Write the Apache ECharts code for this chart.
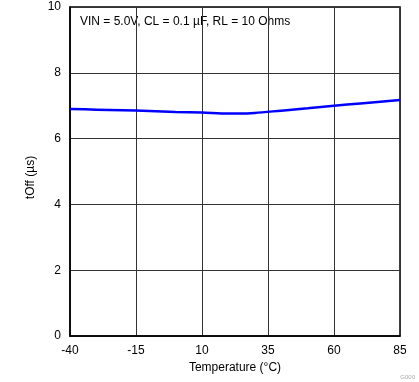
<!DOCTYPE html>
<html><head><meta charset="utf-8">
<script src="https://cdn.jsdelivr.net/npm/echarts@6/dist/echarts.min.js"></script>
<style>html,body{margin:0;padding:0;background:#fff}#c{width:419px;height:382px}</style>
</head><body><div id="c"></div>
<script>
var temps = [-40, -30, -20, -10, 0, 10, 20, 25, 30, 40, 50, 60, 70, 85];
var toff  = [6.90, 6.88, 6.86, 6.84, 6.81, 6.79, 6.76, 6.76, 6.78, 6.85, 6.92, 7.00, 7.07, 7.17];
var xTicks = [-40, -15, 10, 35, 60, 85];
var annotation = 'VIN = 5.0V, CL = 0.1 µF, RL = 10 Ohms';
var font = 'Liberation Sans, Arial, sans-serif';
var chart = echarts.init(document.getElementById('c'), null, {renderer:'canvas'});
chart.setOption({
  animation:false,
  grid:{left:70, right:19, top:7, bottom:46, show:true, borderColor:'#000', borderWidth:1.5},
  xAxis:{type:'value', min:-40, max:85, interval:25,
    name:'Temperature (°C)', nameLocation:'middle', nameGap:20,
    nameTextStyle:{fontFamily:font, fontSize:12, color:'#000'},
    axisLine:{show:true, onZero:false, lineStyle:{color:'#000', width:1.5}}, axisTick:{show:false},
    axisLabel:{fontFamily:font, fontSize:12, color:'#000', margin:9,
      formatter:function(v){return xTicks.indexOf(v)>=0 ? String(v) : '';}},
    splitLine:{show:true, lineStyle:{color:'#333', width:1}}},
  yAxis:{type:'value', min:0, max:10, interval:2,
    name:'tOff (µs)', nameLocation:'middle', nameGap:30, nameRotate:90,
    nameTextStyle:{fontFamily:font, fontSize:12, color:'#000', padding:[0,12,0,0]},
    axisLine:{show:true, onZero:false, lineStyle:{color:'#000', width:1.5}}, axisTick:{show:false},
    axisLabel:{fontFamily:font, fontSize:12, color:'#000', margin:9},
    splitLine:{show:true, lineStyle:{color:'#333', width:1}}},
  graphic:[
    {type:'text', left:80, top:16, style:{text:annotation, font:'12px '+font, fill:'#000'}},
    {type:'text', right:4, bottom:2, style:{text:'G000', font:'6px '+font, fill:'#aaa'}}
  ],
  series:[{type:'line', data:temps.map(function(t,i){return [t,toff[i]];}),
    smooth:0.3, symbol:'none', lineStyle:{color:'#0000ff', width:2.5}}]
});
</script></body></html>
